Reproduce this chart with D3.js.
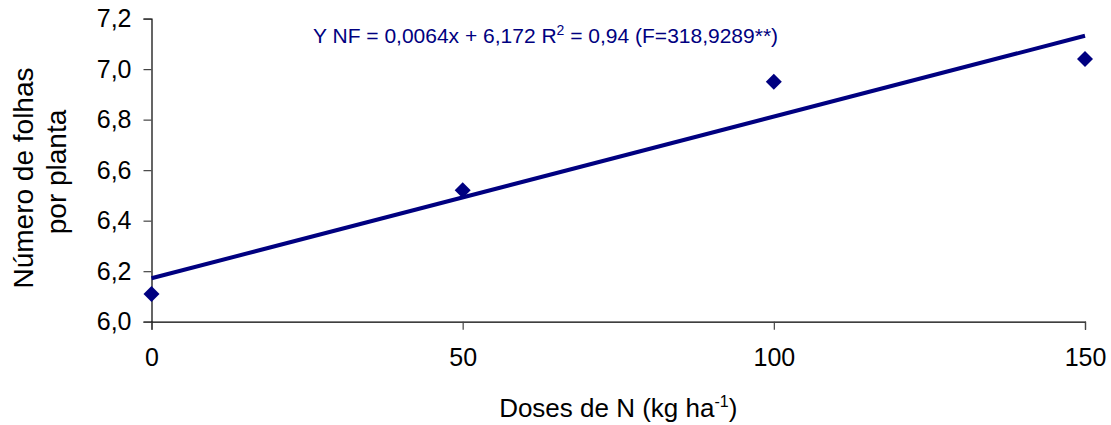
<!DOCTYPE html>
<html>
<head>
<meta charset="utf-8">
<script src="https://cdn.jsdelivr.net/npm/d3@7"></script>
<style>
  html, body { margin: 0; padding: 0; background: #fff; }
  svg { display: block; font-family: "Liberation Sans", Arial, sans-serif; }
</style>
</head>
<body>
<svg id="chart" width="1111" height="425"></svg>
<script>
// Nitrogen doses (kg/ha) and observed leaves per plant
const doses = [0, 50, 100, 150];
const leaves = [6.11, 6.52, 6.95, 7.04];

// Fitted linear regression
const slope = 0.0064;
const intercept = 6.172;
const r2 = 0.94;
const fValue = "318,9289**";

// Axis ticks
const xTicks = [0, 50, 100, 150];
const yTicks = [6.0, 6.2, 6.4, 6.6, 6.8, 7.0, 7.2];

const W = 1111, H = 425;
const margin = { top: 18.6, right: 26, bottom: 103.3, left: 151.5 };
const navy = "#000080";

const svg = d3.select("#chart");

const x = d3.scaleLinear().domain([0, 150]).range([margin.left, W - margin.right]);
const y = d3.scaleLinear().domain([6.0, 7.2]).range([H - margin.bottom, margin.top]);

const comma = v => d3.format(".1f")(v).replace(".", ",");

// Y axis
const yAxis = svg.append("g")
  .attr("transform", `translate(${x(0)},0)`)
  .call(d3.axisLeft(y).tickValues(yTicks).tickFormat(comma).tickSizeOuter(0).tickSize(8).tickPadding(12));
yAxis.select(".domain").attr("stroke", "#000").attr("stroke-width", 1.2);
yAxis.selectAll(".tick line").attr("stroke", "#444").attr("stroke-width", 1.2);
yAxis.selectAll(".tick text").attr("font-size", 25).attr("fill", "#000")
  .attr("font-family", "Liberation Sans, Arial, sans-serif");

// X axis
const xAxis = svg.append("g")
  .attr("transform", `translate(0,${y(6.0)})`)
  .call(d3.axisBottom(x).tickValues(xTicks).tickFormat(d3.format("d")).tickSizeOuter(0).tickSize(8).tickPadding(19));
xAxis.select(".domain").attr("stroke", "#000").attr("stroke-width", 1.2);
xAxis.selectAll(".tick line").attr("stroke", "#444").attr("stroke-width", 1.2);
xAxis.selectAll(".tick text").attr("font-size", 25).attr("fill", "#000")
  .attr("font-family", "Liberation Sans, Arial, sans-serif");

// Observed points (diamonds)
const diamond = "M0,-8L8,0L0,8L-8,0Z";
svg.append("g").selectAll("path")
  .data(doses.map((d, i) => [d, leaves[i]]))
  .join("path")
  .attr("d", diamond)
  .attr("transform", d => `translate(${x(d[0])},${y(d[1])})`)
  .attr("fill", navy);

// Regression line
const fit = [0, 150].map(d => [d, intercept + slope * d]);
svg.append("path")
  .datum(fit)
  .attr("d", d3.line().x(d => x(d[0])).y(d => y(d[1])))
  .attr("stroke", navy)
  .attr("stroke-width", 4)
  .attr("fill", "none");

// Equation label
const eq = svg.append("text")
  .attr("x", 313).attr("y", 43)
  .attr("font-size", 21)
  .attr("fill", navy);
eq.append("tspan").text(`Y NF = ${String(slope).replace(".", ",")}x + ${String(intercept).replace(".", ",")} R`);
eq.append("tspan").attr("font-size", 14).attr("dy", -8).text("2");
eq.append("tspan").attr("dy", 8).text(` = ${String(r2).replace(".", ",")} (F=${fValue})`);

// X axis title
const xt = svg.append("text")
  .attr("x", (x(0) + x(150)) / 2).attr("y", 417)
  .attr("text-anchor", "middle")
  .attr("font-size", 26)
  .attr("fill", "#000");
xt.append("tspan").text("Doses de N (kg ha");
xt.append("tspan").attr("font-size", 16).attr("dy", -10).text("-1");
xt.append("tspan").attr("dy", 10).text(")");

// Y axis title, two lines
svg.append("text")
  .attr("transform", "translate(33,178) rotate(-90)")
  .attr("text-anchor", "middle")
  .attr("font-size", 28)
  .attr("fill", "#000")
  .text("Número de folhas");
svg.append("text")
  .attr("transform", "translate(66,172) rotate(-90)")
  .attr("text-anchor", "middle")
  .attr("font-size", 28)
  .attr("fill", "#000")
  .text("por planta");
</script>
</body>
</html>
